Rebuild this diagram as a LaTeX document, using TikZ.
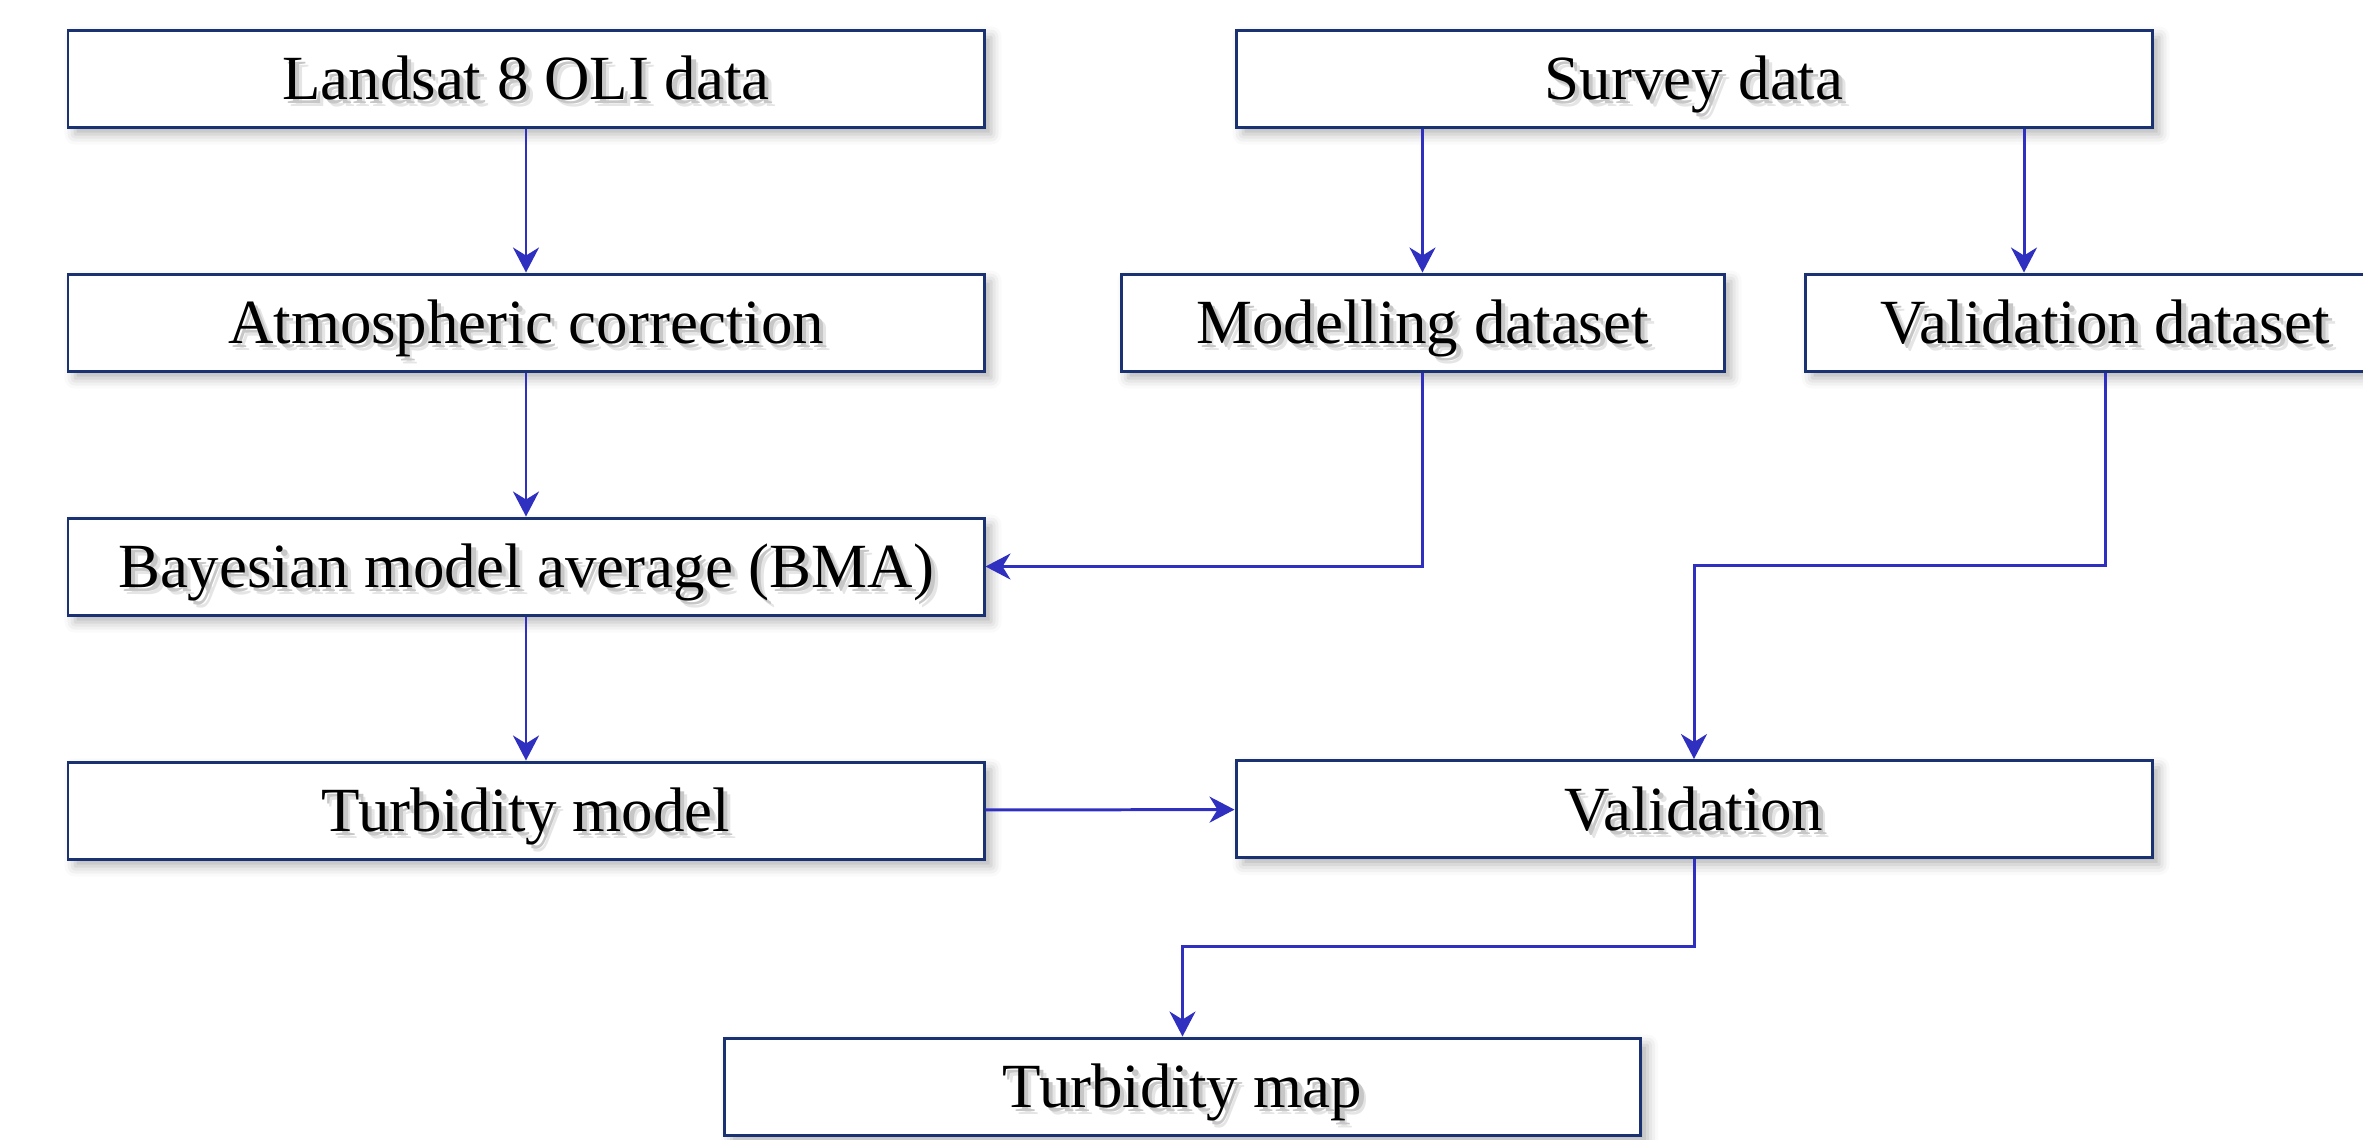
\documentclass[tikz,border=0pt]{standalone}
\usepackage{fontspec}
\setmainfont{Liberation Serif}
\usepackage{tikz}
\usetikzlibrary{arrows.meta, shadows.blur}
\definecolor{boxline}{HTML}{1B3272}
\definecolor{arrowblue}{HTML}{3030C0}
\newcommand{\shtxt}[1]{\makebox[0pt][l]{\hspace{2pt}\raisebox{-2pt}{\textcolor{black!10}{#1}}}\makebox[0pt][l]{\hspace{1.2pt}\raisebox{-1.2pt}{\textcolor{black!22}{#1}}}#1}
\tikzstyle{wide} = [rectangle, minimum width=9.16cm, minimum height=0.97cm, text height=0.42cm, text depth=0cm, text centered, draw=boxline, line width=0.85pt, fill=white, font=\fontsize{17.9}{20}\selectfont, blur shadow={shadow xshift=2pt, shadow yshift=-2pt, shadow blur radius=3pt, shadow opacity=30}]
\tikzstyle{narrow} = [wide, minimum width=6.0cm]
\tikzstyle{arrow} = [line width=0.85pt, draw=arrowblue, -{Stealth[length=0.25cm, width=0.26cm, inset=0.08cm]}, arrowblue]

\begin{document}
\begin{tikzpicture}[node distance=2.44cm]
\useasboundingbox (0,0) rectangle (23.63,-11.39);

% Column 1 - Satellite imagery
\node (landsat) [wide] at (5.26,-0.785) {\shtxt{Landsat 8 OLI data}};
\node (atmos) [wide, below of=landsat] {\shtxt{Atmospheric correction}};
\node (bma) [wide, below of=atmos] {\shtxt{Bayesian model average (BMA)}};
\node (turbModel) [wide, below of=bma] {\shtxt{Turbidity model}};

% Column 2 - Field survey
\node (survey) [wide] at (16.94,-0.785) {\shtxt{Survey data}};
\node (modelData) [narrow, minimum width=6.03cm] at (14.225,-3.225) {\shtxt{Modelling dataset}};
\node (validData) [narrow] at (21.05,-3.225) {\shtxt{Validation dataset}};
\node (valid) [wide] at (16.94,-8.09) {\shtxt{Validation}};
\node (turbMap) [wide] at (11.825,-10.865) {\shtxt{Turbidity map}};

% Column 1 - Arrows
\draw [arrow] (landsat) -- (atmos);
\draw [arrow] (atmos) -- (bma);
\draw [arrow] (bma) -- (turbModel);
\draw [arrow] (turbModel) -- (valid);

% Column 2 - Arrows
\draw [arrow] (survey.south -| modelData.north) -- (modelData.north);
\draw [arrow] (survey.south -| 20.24,0) -- (validData.north -| 20.24,0);
\draw [arrow] (modelData.south) |- (bma.east);
\draw [arrow] (validData.south) |- (16.94,-5.65) -- (valid.north);
\draw [arrow] (valid.south) |- (11.825,-9.46) -- (turbMap.north);

\end{tikzpicture}
\end{document}
